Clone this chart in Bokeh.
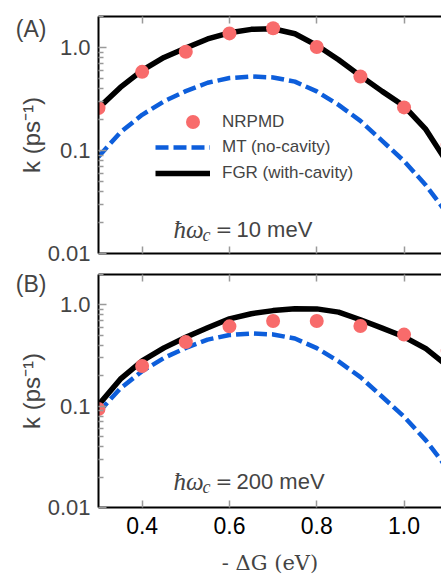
from math import log10

from bokeh.plotting import figure
from bokeh.models import (Range1d, LinearAxis, LogAxis, FixedTicker, Legend, LegendItem,
                          Label, ColumnDataSource, CustomLabelingPolicy)
from bokeh.layouts import column
from bokeh.embed import file_html
from bokeh.resources import INLINE

# ---------------- data ----------------
dg_curve = [0.30, 0.35, 0.40, 0.45, 0.50, 0.55, 0.60, 0.65, 0.70,
            0.75, 0.80, 0.85, 0.90, 0.95, 1.00, 1.05, 1.10]
mt_rate = [0.087, 0.150, 0.222, 0.300, 0.377, 0.455, 0.505, 0.523, 0.512,
           0.466, 0.375, 0.277, 0.194, 0.124, 0.079, 0.046, 0.024]
fgr_rate_a = [0.258, 0.41, 0.60, 0.80, 0.99, 1.21, 1.39, 1.50, 1.52,
              1.36, 1.05, 0.76, 0.53, 0.375, 0.27, 0.16, 0.075]
fgr_rate_b = [0.103, 0.185, 0.28, 0.377, 0.48, 0.595, 0.73, 0.82, 0.88,
              0.92, 0.915, 0.85, 0.715, 0.59, 0.485, 0.37, 0.25]

dg_points = [0.3, 0.4, 0.5, 0.6, 0.7, 0.8, 0.9, 1.0, 1.1]
nrpmd_rate_a = [0.258, 0.58, 0.91, 1.37, 1.54, 1.01, 0.523, 0.262, 0.114]
nrpmd_rate_b = [0.094, 0.25, 0.43, 0.615, 0.695, 0.695, 0.62, 0.51, 0.355]

x_ticks = [0.4, 0.6, 0.8, 1.0]
x_tick_labels = ["0.4", "0.6", "0.8", "1.0"]
y_ticks = [0.01, 0.1, 1.0]
y_tick_labels = ["0.01", "0.1", "1.0"]
panel_tags = ["(A)", "(B)"]
cavity_energies = ["10 meV", "200 meV"]
series_names = ["NRPMD", "MT (no-cavity)", "FGR (with-cavity)"]

# ---------------- styling ----------------
SANS = "Liberation Sans"
SERIF = "Liberation Serif"
RED = "#F86B6B"
BLUE = "#0D5EDB"
TICK_GREY = "#9a9a9a"

X_START, X_END = 0.3, 1.0858
Y_START, Y_END = 0.01, 2.0
FIG_W = 441
BORDER_L = 98
FRAME_W = FIG_W - BORDER_L

y_minor = [m * d for d in (0.01, 0.1) for m in range(2, 10)] + [2.0]

HIDE_LABELS = "for (const i of indices) indices.unset(i)"


def px_to_x(px):
    return X_START + (X_END - X_START) * px / FRAME_W


def px_to_y(py, frame_h):
    lo, hi = log10(Y_START), log10(Y_END)
    return 10 ** (hi - (hi - lo) * py / frame_h)


def style_x_axis(ax, labelled):
    ax.ticker = FixedTicker(ticks=x_ticks)
    ax.axis_line_color = "black"
    ax.axis_line_width = 2
    ax.major_tick_in = 7
    ax.major_tick_out = 0
    ax.minor_tick_in = 0
    ax.minor_tick_out = 0
    ax.major_tick_line_color = TICK_GREY
    ax.major_tick_line_width = 1.5
    if labelled:
        ax.major_label_overrides = dict(zip(x_ticks, x_tick_labels))
        ax.major_label_text_font = SANS
        ax.major_label_text_font_size = "23px"
        ax.major_label_text_color = "black"
        ax.major_label_standoff = 9
    else:
        ax.major_label_text_font_size = "1px"
        ax.major_label_standoff = 0
        ax.major_label_policy = CustomLabelingPolicy(code=HIDE_LABELS)


def make_panel(idx, fgr, nrpmd, height, border_top, border_bottom, frame_h,
               show_x, base_rel, tag_rel):
    p = figure(width=FIG_W, height=height,
               x_range=Range1d(X_START, X_END), y_range=Range1d(Y_START, Y_END),
               y_axis_type="log", output_backend="svg", toolbar_location=None,
               min_border_left=BORDER_L, min_border_right=0,
               min_border_top=border_top, min_border_bottom=border_bottom)
    p.outline_line_color = None
    p.xgrid.visible = False
    p.ygrid.visible = False
    p.background_fill_color = "white"

    # axes
    bottom = p.below[0]
    style_x_axis(bottom, show_x)
    top = LinearAxis()
    style_x_axis(top, False)
    p.add_layout(top, "above")
    if show_x:
        bottom.axis_label = "- ΔG (eV)"
        bottom.axis_label_text_font = "DejaVu Serif"
        bottom.axis_label_text_font_size = "21px"
        bottom.axis_label_text_font_style = "normal"
        bottom.axis_label_standoff = 14

    ya = p.left[0]
    ya.ticker = FixedTicker(ticks=y_ticks, minor_ticks=y_minor)
    ya.major_label_overrides = dict(zip(y_ticks, y_tick_labels))
    ya.major_label_text_font = SANS
    ya.major_label_text_font_size = "22px"
    ya.major_label_standoff = 8
    ya.axis_line_width = 2
    ya.major_tick_in = 8
    ya.major_tick_out = 0
    ya.minor_tick_in = 5
    ya.minor_tick_out = 0
    ya.major_tick_line_color = TICK_GREY
    ya.minor_tick_line_color = TICK_GREY
    ya.major_tick_line_width = 1.5
    ya.minor_tick_line_width = 1.5
    ya.axis_label = "k (ps\u207b\u00b9)"
    ya.axis_label_text_font = SANS
    ya.axis_label_text_font_size = "24px"
    ya.axis_label_text_font_style = "normal"
    ya.axis_label_standoff = 0

    # panel tag, drawn as the single label of an extra, otherwise invisible axis
    tag_y = px_to_y(tag_rel, frame_h)
    tag_axis = LogAxis(ticker=FixedTicker(ticks=[tag_y]),
                       major_label_overrides={tag_y: panel_tags[idx]},
                       axis_line_color=None, major_tick_line_color=None,
                       minor_tick_line_color=None, major_tick_in=0, major_tick_out=0,
                       major_label_text_font=SANS, major_label_text_font_size="23px",
                       major_label_standoff=-32)
    p.add_layout(tag_axis, "left")

    curves = ColumnDataSource(dict(x=dg_curve, mt=mt_rate, fgr=fgr))
    pts = ColumnDataSource(dict(x=dg_points, k=nrpmd))
    r_fgr = p.line("x", "fgr", source=curves, line_color="black", line_width=5.5,
                   line_join="round")
    r_mt = p.line("x", "mt", source=curves, line_color=BLUE, line_width=4.5,
                  line_dash="13 5")
    r_pts = p.scatter("x", "k", source=pts, size=14, fill_color=RED,
                      line_color=None)

    # hbar omega_c = ...
    p.add_layout(Label(x=px_to_x(75), y=px_to_y(base_rel, frame_h), text="ħω",
                       text_font=SERIF, text_font_style="italic",
                       text_font_size="25px", text_baseline="alphabetic"))
    p.add_layout(Label(x=px_to_x(104), y=px_to_y(base_rel + 5, frame_h), text="c",
                       text_font=SERIF, text_font_style="italic",
                       text_font_size="18px", text_baseline="alphabetic"))
    p.add_layout(Label(x=px_to_x(117), y=px_to_y(base_rel - 1, frame_h), text="=",
                       text_font="DejaVu Sans", text_font_size="20px",
                       text_baseline="alphabetic"))
    p.add_layout(Label(x=px_to_x(138), y=px_to_y(base_rel, frame_h),
                       text=cavity_energies[idx], text_font=SANS,
                       text_font_size="22px", text_baseline="alphabetic"))
    return p, r_pts, r_mt, r_fgr


pA, ra_pts, ra_mt, ra_fgr = make_panel(0, fgr_rate_a, nrpmd_rate_a, 265, 16, 12,
                                       237, False, 213, 12)
pB, rb_pts, rb_mt, rb_fgr = make_panel(1, fgr_rate_b, nrpmd_rate_b, 312, 9, 66,
                                       237, True, 211, 10)

leg_common = dict(border_line_color=None, background_fill_alpha=0, padding=0,
                  margin=0, label_text_font=SANS, label_text_font_size="17px",
                  label_standoff=12)
leg1 = Legend(items=[LegendItem(label=series_names[0], renderers=[ra_pts])],
              location=(77, 114), glyph_width=35, glyph_height=35,
              label_height=35, **leg_common)
leg2 = Legend(items=[LegendItem(label=series_names[1], renderers=[ra_mt]),
                     LegendItem(label=series_names[2], renderers=[ra_fgr])],
              location=(57, 70), glyph_width=55, glyph_height=20,
              label_height=20, spacing=6, **leg_common)
pA.add_layout(leg1)
pA.add_layout(leg2)

layout = column(pA, pB)
open("out.html", "w").write(file_html(layout, INLINE))
